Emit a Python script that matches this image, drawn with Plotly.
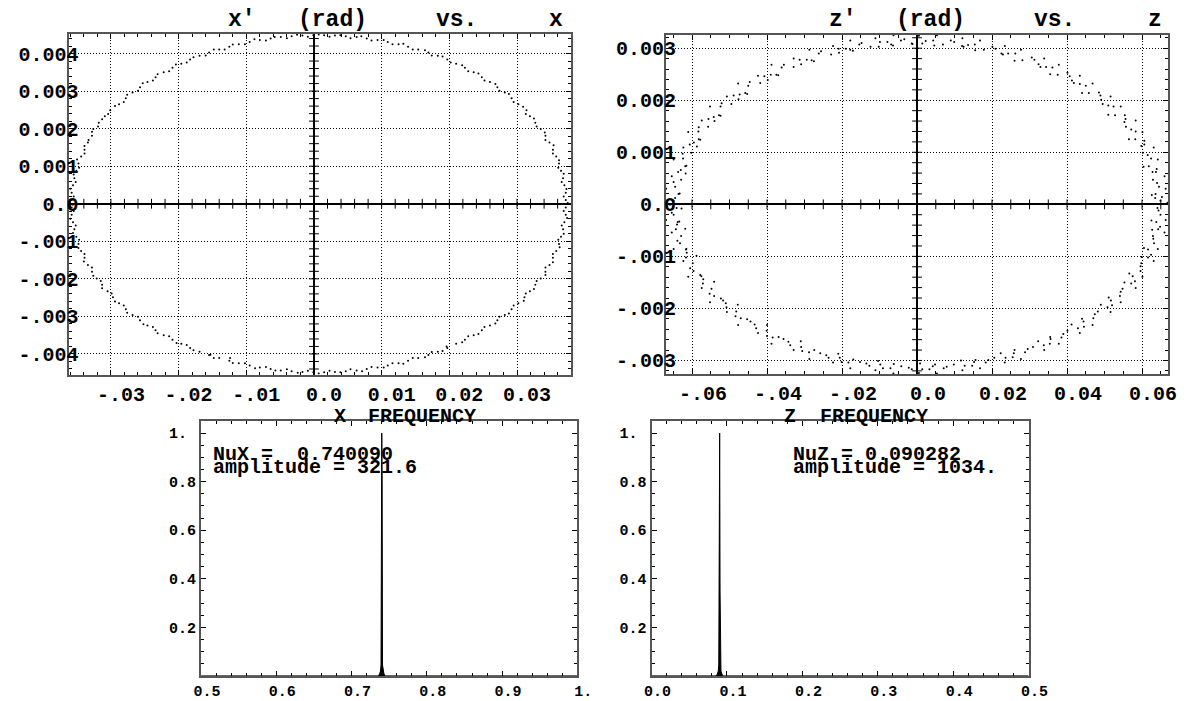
import numpy as np
import plotly.graph_objects as go

W, H = 1198, 701
FONT = "Liberation Mono"

# ---------------------------------------------------------------- phase space x' vs x
# turn-by-turn samples, x in mm and x' in mrad (one row per quarter turn of the ellipse)
x_mm = [
    37.5, 37.3, 36.9, 36.2, 35.4, 34.1, 32.5, 30.9, 28.8, 26.8, 24.3, 21.9, 19.0, 16.4, 13.2, 10.3, 7.0, 3.9,
    0.7, -2.5, -5.8, -8.8, -12.0, -14.8, -17.8, -20.4, -23.1, -25.3, -27.6, -29.4, -31.3, -32.8, -33.9, -35.0, -35.5, -36.0,
    -36.1, -36.0, -35.6, -34.8, -34.0, -32.6, -31.3, -29.4, -27.6, -25.2, -23.1, -20.3, -17.8, -14.8, -12.0, -8.7, -5.7, -2.4,
    0.7, 3.9, 7.1, 10.3, 13.2, 16.4, 19.0, 21.9, 24.3, 26.8, 28.8, 31.0, 32.5, 34.2, 35.3, 36.3, 36.9, 37.4,
    36.9, 36.6, 36.1, 35.3, 34.2, 32.9, 31.3, 29.5, 27.4, 25.2, 22.8, 20.2, 17.4, 14.6, 11.6, 8.5, 5.4, 2.3,
    -0.9, -4.0, -7.1, -10.2, -13.2, -16.0, -18.8, -21.4, -23.8, -26.0, -28.1, -30.4, -31.9, -33.3, -33.9, -34.7, -35.2, -35.5,
    -35.5, -35.2, -34.7, -33.9, -32.8, -31.5, -29.9, -28.1, -26.0, -23.8, -21.4, -18.8, -15.3, -12.4, -10.2, -7.1, -4.0, -0.9,
    2.3, 5.4, 8.5, 11.6, 14.6, 17.4, 19.6, 22.8, 25.2, 27.4, 29.5, 31.3, 32.9, 34.2, 35.3, 36.1, 36.6, 36.9,
    37.2, 37.2, 37.0, 36.8, 36.5, 36.2, 35.8, 35.3, 34.8, 34.2, 33.5, 32.7, 31.9, 31.4, 30.2, 29.2, 28.2, 27.1,
    26.0, 24.8, 23.6, 22.3, 21.0, 19.7, 18.3, 16.9, 15.4, 13.9, 12.5, 10.9, 9.4, 7.8, 6.3, 4.7, 3.1, 1.5,
    -0.1, -1.7, -3.3, -4.9, -6.4, -8.0, -9.5, -11.1, -12.5, -14.0, -15.5, -16.9, -18.3, -19.6, -20.9, -22.2, -23.4, -24.6,
    -25.7, -26.8, -27.8, -28.8, -30.1, -30.9, -31.8, -32.6, -32.8, -33.4, -33.9, -34.4, -34.8, -35.1, -35.4, -35.6, -35.8, -35.8,
    -35.8, -35.8, -35.6, -35.4, -35.1, -34.8, -34.4, -33.9, -33.4, -32.8, -32.1, -31.3, -30.5, -29.7, -28.8, -27.8, -26.8, -25.7,
    -24.6, -23.4, -22.2, -20.9, -19.6, -18.3, -16.9, -15.5, -14.0, -12.5, -11.1, -9.5, -8.0, -6.4, -4.9, -3.3, -1.7, -0.1,
    1.5, 3.1, 4.7, 6.3, 7.8, 9.4, 10.9, 12.5, 13.9, 15.4, 16.9, 18.3, 19.7, 21.0, 22.3, 23.6, 24.8, 26.0,
    27.1, 28.2, 29.2, 30.2, 31.1, 31.9, 32.7, 33.5, 34.2, 34.8, 35.3, 35.8, 36.2, 36.5, 36.8, 37.0, 37.2, 37.2,
]
xp_mrad = [
    0.02, 0.39, 0.80, 1.16, 1.56, 1.90, 2.27, 2.58, 2.92, 3.19, 3.47, 3.69, 3.92, 4.09, 4.26, 4.36, 4.46, 4.49,
    4.51, 4.50, 4.44, 4.38, 4.24, 4.11, 3.90, 3.71, 3.45, 3.21, 2.90, 2.60, 2.25, 1.92, 1.54, 1.18, 0.78, 0.40,
    -0.01, -0.40, -0.78, -1.18, -1.54, -1.92, -2.25, -2.60, -2.90, -3.21, -3.45, -3.71, -3.90, -4.11, -4.24, -4.38, -4.44, -4.50,
    -4.52, -4.49, -4.46, -4.36, -4.26, -4.09, -3.92, -3.69, -3.47, -3.19, -2.92, -2.58, -2.27, -1.90, -1.56, -1.16, -0.80, -0.38,
    0.19, 0.58, 0.96, 1.34, 1.70, 2.06, 2.39, 2.71, 3.01, 3.28, 3.53, 3.76, 3.95, 4.11, 4.25, 4.35, 4.41, 4.45,
    4.45, 4.41, 4.35, 4.25, 4.11, 3.95, 3.76, 3.53, 3.28, 3.01, 2.71, 2.39, 2.06, 1.70, 1.34, 0.96, 0.58, 0.19,
    -0.19, -0.58, -0.96, -1.34, -1.70, -2.06, -2.39, -2.71, -3.01, -3.28, -3.53, -3.76, -4.02, -4.11, -4.25, -4.35, -4.41, -4.45,
    -4.45, -4.41, -4.35, -4.25, -4.11, -3.95, -3.80, -3.53, -3.28, -3.01, -2.71, -2.39, -2.06, -1.70, -1.34, -0.96, -0.58, -0.19,
    0.10, 0.29, 0.49, 0.68, 0.88, 1.07, 1.26, 1.44, 1.63, 1.81, 1.99, 2.16, 2.33, 2.49, 2.65, 2.81, 2.96, 3.10,
    3.24, 3.37, 3.50, 3.62, 3.73, 3.84, 3.94, 4.03, 4.11, 4.18, 4.25, 4.31, 4.36, 4.40, 4.44, 4.46, 4.48, 4.49,
    4.49, 4.48, 4.46, 4.44, 4.40, 4.36, 4.31, 4.25, 4.18, 4.11, 4.03, 3.94, 3.84, 3.73, 3.62, 3.50, 3.37, 3.24,
    3.10, 2.96, 2.81, 2.65, 2.49, 2.33, 2.16, 1.99, 1.81, 1.63, 1.44, 1.26, 1.07, 0.88, 0.68, 0.49, 0.29, 0.10,
    -0.10, -0.29, -0.49, -0.68, -0.88, -1.07, -1.26, -1.44, -1.63, -1.81, -1.99, -2.16, -2.33, -2.49, -2.65, -2.81, -2.96, -3.10,
    -3.24, -3.37, -3.50, -3.62, -3.73, -3.84, -3.94, -4.03, -4.11, -4.18, -4.25, -4.31, -4.36, -4.40, -4.44, -4.46, -4.48, -4.49,
    -4.49, -4.48, -4.46, -4.44, -4.40, -4.36, -4.31, -4.25, -4.18, -4.11, -4.03, -3.94, -3.84, -3.73, -3.62, -3.50, -3.37, -3.24,
    -3.10, -2.96, -2.81, -2.65, -2.49, -2.33, -2.16, -1.99, -1.81, -1.63, -1.44, -1.26, -1.07, -0.88, -0.68, -0.49, -0.29, -0.10,
]

# ---------------------------------------------------------------- phase space z' vs z
z_mm = [
    66.8, 66.3, 66.0, 64.2, 63.1, 60.1, 58.3, 54.3, 51.6, 46.8, 43.4, 37.8, 33.9, 27.7, 23.4, 16.8, 12.1, 5.3,
    0.5, -6.3, -11.1, -17.8, -22.4, -28.7, -32.9, -38.8, -42.4, -47.7, -50.7, -55.2, -57.4, -61.0, -62.3, -64.9, -65.4, -66.9,
    -66.7, -66.9, -65.4, -64.9, -62.3, -61.0, -57.4, -55.2, -50.7, -47.7, -42.4, -38.8, -32.9, -28.7, -22.4, -17.8, -11.1, -6.3,
    0.5, 5.3, 12.1, 16.8, 23.4, 27.7, 33.9, 37.8, 43.4, 46.8, 51.6, 54.3, 58.3, 60.1, 63.1, 64.2, 66.0, 66.3,
    65.3, 64.0, 63.9, 61.5, 60.6, 57.1, 55.4, 51.0, 48.5, 43.4, 40.1, 34.4, 30.6, 24.3, 20.1, 13.6, 9.0, 2.3,
    -3.4, -7.9, -14.8, -19.0, -25.6, -29.4, -35.5, -39.0, -44.6, -47.3, -52.1, -54.2, -58.2, -59.5, -62.5, -63.0, -64.9, -64.5,
    -65.4, -64.0, -63.9, -61.4, -60.5, -57.0, -55.3, -51.0, -48.4, -43.3, -40.0, -34.3, -30.6, -24.2, -20.1, -13.5, -9.1, -2.2,
    3.3, 7.9, 14.7, 19.0, 25.5, 29.5, 35.4, 39.0, 44.5, 47.4, 52.0, 54.3, 58.1, 59.6, 62.4, 63.0, 64.8, 64.4,
    63.5, 62.6, 62.8, 60.4, 59.8, 56.5, 55.3, 51.0, 49.1, 44.0, 41.3, 35.5, 32.4, 26.0, 22.5, 15.5, 12.0, 4.6,
    -1.2, -6.4, -10.2, -17.1, -20.8, -27.5, -30.9, -37.0, -39.8, -45.3, -47.6, -52.4, -54.0, -57.8, -58.7, -61.5, -61.7, -63.3,
    -62.8, -63.4, -61.8, -61.5, -58.8, -57.8, -54.1, -52.3, -47.8, -45.3, -40.0, -36.9, -31.0, -27.4, -21.0, -17.0, -10.4, -6.2,
    0.8, 4.8, 11.7, 15.6, 22.3, 26.0, 32.3, 35.5, 41.2, 44.0, 49.0, 51.1, 55.3, 56.6, 59.9, 60.5, 62.7, 62.5,
    64.9, 63.6, 64.5, 62.9, 63.7, 61.8, 62.4, 60.2, 60.6, 58.2, 58.3, 55.7, 55.6, 52.8, 52.4, 49.5, 48.9, 45.8,
    45.0, 41.8, 40.7, 37.5, 36.1, 32.9, 31.3, 28.1, 26.2, 22.9, 20.9, 17.8, 15.4, 12.4, 9.9, 6.9, 4.3, 1.4,
    -1.4, -4.3, -6.9, -9.9, -12.4, -15.4, -17.8, -20.9, -22.9, -26.2, -28.1, -31.3, -32.9, -36.1, -37.5, -40.7, -41.8, -45.0,
    -45.8, -48.9, -49.5, -52.4, -52.8, -55.6, -55.7, -58.3, -58.2, -60.6, -60.2, -62.4, -61.8, -63.7, -62.9, -64.5, -63.6, -64.9,
    -64.1, -64.9, -63.8, -64.3, -62.9, -63.2, -61.6, -61.6, -59.8, -59.6, -57.5, -57.1, -54.8, -54.1, -51.7, -50.8, -48.2, -47.0,
    -44.4, -42.9, -40.1, -38.5, -35.6, -33.8, -30.9, -28.8, -25.8, -23.6, -20.6, -18.3, -15.2, -12.7, -9.8, -7.1, -4.2, -1.4,
    1.4, 4.2, 7.1, 9.8, 12.7, 15.2, 18.3, 20.6, 23.6, 25.8, 28.8, 30.9, 33.8, 35.6, 38.5, 40.1, 42.9, 44.4,
    47.0, 48.2, 50.8, 51.7, 54.1, 54.8, 57.1, 57.5, 59.6, 59.8, 61.6, 61.6, 63.2, 62.9, 64.3, 63.8, 64.9, 64.1,
]
zp_mrad = [
    0.03, 0.30, 0.54, 0.86, 1.09, 1.39, 1.61, 1.88, 2.07, 2.32, 2.47, 2.68, 2.80, 2.97, 3.04, 3.15, 3.19, 3.25,
    3.24, 3.25, 3.19, 3.15, 3.04, 2.97, 2.80, 2.68, 2.47, 2.32, 2.07, 1.88, 1.61, 1.39, 1.09, 0.86, 0.54, 0.30,
    -0.03, -0.30, -0.54, -0.86, -1.09, -1.39, -1.61, -1.88, -2.07, -2.32, -2.47, -2.68, -2.80, -2.97, -3.04, -3.15, -3.19, -3.25,
    -3.24, -3.25, -3.19, -3.15, -3.04, -2.97, -2.80, -2.68, -2.47, -2.32, -2.07, -1.88, -1.61, -1.39, -1.09, -0.86, -0.54, -0.30,
    0.14, 0.41, 0.68, 0.95, 1.22, 1.44, 1.71, 1.90, 2.15, 2.31, 2.53, 2.64, 2.82, 2.90, 3.03, 3.06, 3.15, 3.14,
    3.17, 3.12, 3.10, 2.99, 2.94, 2.78, 2.68, 2.49, 2.35, 2.11, 1.94, 1.68, 1.48, 1.19, 0.97, 0.66, 0.43, 0.12,
    -0.16, -0.39, -0.70, -0.93, -1.23, -1.44, -1.72, -1.90, -2.15, -2.31, -2.53, -2.64, -2.82, -2.90, -3.03, -3.06, -3.15, -3.14,
    -3.17, -3.12, -3.10, -2.99, -2.94, -2.78, -2.68, -2.49, -2.35, -2.11, -1.94, -1.68, -1.48, -1.19, -0.97, -0.66, -0.43, -0.12,
    0.12, 0.18, 0.62, 0.72, 1.12, 1.25, 1.58, 1.72, 2.01, 2.14, 2.38, 2.50, 2.69, 2.76, 2.90, 2.96, 3.04, 3.05,
    3.08, 3.05, 3.03, 2.95, 2.91, 2.75, 2.69, 2.48, 2.39, 2.12, 2.02, 1.70, 1.60, 1.24, 1.11, 0.74, 0.59, 0.21,
    -0.08, -0.33, -0.47, -0.86, -0.99, -1.36, -1.49, -1.81, -1.93, -2.21, -2.32, -2.55, -2.63, -2.80, -2.87, -2.98, -3.01, -3.07,
    -3.06, -3.08, -3.00, -2.99, -2.86, -2.80, -2.63, -2.55, -2.31, -2.20, -1.93, -1.79, -1.50, -1.33, -1.01, -0.84, -0.49, -0.31,
    0.07, 0.20, 0.34, 0.47, 0.62, 0.73, 0.88, 0.99, 1.15, 1.25, 1.40, 1.49, 1.64, 1.71, 1.88, 1.93, 2.09, 2.14,
    2.28, 2.33, 2.46, 2.49, 2.63, 2.64, 2.78, 2.77, 2.90, 2.88, 2.99, 2.97, 3.07, 3.03, 3.12, 3.07, 3.15, 3.09,
    3.09, 3.15, 3.07, 3.12, 3.03, 3.07, 2.97, 2.99, 2.88, 2.90, 2.77, 2.78, 2.64, 2.63, 2.49, 2.46, 2.33, 2.28,
    2.14, 2.09, 1.93, 1.88, 1.71, 1.64, 1.49, 1.40, 1.25, 1.15, 0.99, 0.88, 0.73, 0.62, 0.47, 0.34, 0.20, 0.07,
    -0.07, -0.20, -0.34, -0.48, -0.61, -0.75, -0.87, -1.02, -1.13, -1.28, -1.38, -1.52, -1.62, -1.76, -1.85, -1.98, -2.06, -2.19,
    -2.25, -2.38, -2.43, -2.56, -2.59, -2.71, -2.74, -2.84, -2.86, -2.95, -2.95, -3.04, -3.03, -3.10, -3.08, -3.15, -3.11, -3.17,
    -3.17, -3.11, -3.15, -3.08, -3.10, -3.03, -3.04, -2.95, -2.95, -2.86, -2.84, -2.74, -2.71, -2.59, -2.56, -2.43, -2.38, -2.25,
    -2.19, -2.06, -1.98, -1.85, -1.76, -1.62, -1.52, -1.38, -1.28, -1.13, -1.02, -0.87, -0.75, -0.61, -0.48, -0.34, -0.20, -0.07,
]

# ---------------------------------------------------------------- tune spectra (normalised)
NU_X, AMP_X = 0.740090, "321.6"
NU_Z, AMP_Z = 0.090282, "1034."
freq_x = [0.5, 0.7355, 0.7372, 0.7384, 0.7391, 0.7395, NU_X, 0.7406, 0.7411, 0.7418, 0.7430, 0.7447, 1.0]
spec_x = [0.0, 0.0, 0.008, 0.02, 0.045, 0.35, 1.0, 0.80, 0.045, 0.02, 0.008, 0.0, 0.0]
freq_z = [0.0, 0.0855, 0.0872, 0.0884, 0.0891, 0.0897, NU_Z, 0.0908, 0.0913, 0.0920, 0.0932, 0.0949, 0.5]
spec_z = [0.0, 0.0, 0.008, 0.02, 0.045, 0.68, 1.0, 0.35, 0.045, 0.02, 0.008, 0.0, 0.0]

# tick labels
tl_x_vals = [-0.03, -0.02, -0.01, 0.0, 0.01, 0.02, 0.03]
tl_x_text = ["-.03", "-.02", "-.01", "0.0", "0.01", "0.02", "0.03"]
tl_y_vals = [-0.004, -0.003, -0.002, -0.001, 0.0, 0.001, 0.002, 0.003, 0.004]
tl_y_text = ["-.004", "-.003", "-.002", "-.001", "0.0", "0.001", "0.002", "0.003", "0.004"]
tr_x_vals = [-0.06, -0.04, -0.02, 0.0, 0.02, 0.04, 0.06]
tr_x_text = ["-.06", "-.04", "-.02", "0.0", "0.02", "0.04", "0.06"]
tr_y_vals = [-0.003, -0.002, -0.001, 0.0, 0.001, 0.002, 0.003]
tr_y_text = ["-.003", "-.002", "-.001", "0.0", "0.001", "0.002", "0.003"]
bl_x_vals = [0.5, 0.6, 0.7, 0.8, 0.9, 1.0]
bl_x_text = ["0.5", "0.6", "0.7", "0.8", "0.9", "1."]
br_x_vals = [0.0, 0.1, 0.2, 0.3, 0.4, 0.5]
br_x_text = ["0.0", "0.1", "0.2", "0.3", "0.4", "0.5"]
b_y_vals = [0.2, 0.4, 0.6, 0.8, 1.0]
b_y_text = ["0.2", "0.4", "0.6", "0.8", "1.\u00a0"]


def px_x(p):
    return p / W


def px_y(p):
    return 1 - p / H


fig = go.Figure()

DOT = dict(size=2, color="black", line=dict(width=0))
fig.add_trace(go.Scatter(x=np.array(x_mm) * 1e-3, y=np.array(xp_mrad) * 1e-3,
                         mode="markers", marker=DOT, xaxis="x", yaxis="y", hoverinfo="skip"))
fig.add_trace(go.Scatter(x=np.array(z_mm) * 1e-3, y=np.array(zp_mrad) * 1e-3,
                         mode="markers", marker=DOT, xaxis="x2", yaxis="y2", hoverinfo="skip"))


# small tick marks crossing the zero axes of the phase-space panels
def axis_ticks(xa, ya, xstep, xn, ystep, yn):
    xs = np.arange(-xn, xn + 1) * xstep
    xs = xs[xs != 0]
    ys = np.arange(-yn, yn + 1) * ystep
    ys = ys[ys != 0]
    mk = dict(size=7, color="black", line=dict(width=1, color="black"))
    fig.add_trace(go.Scatter(x=xs, y=np.zeros_like(xs), mode="markers", xaxis=xa, yaxis=ya,
                             marker=dict(symbol="line-ns", **mk), hoverinfo="skip"))
    fig.add_trace(go.Scatter(x=np.zeros_like(ys), y=ys, mode="markers", xaxis=xa, yaxis=ya,
                             marker=dict(symbol="line-ew", **mk), hoverinfo="skip"))


axis_ticks("x", "y", 0.002, 18, 0.0002, 22)
axis_ticks("x2", "y2", 0.005, 13, 0.0002, 16)

fig.add_trace(go.Scatter(x=freq_x, y=spec_x, mode="lines", fill="tozeroy", fillcolor="black",
                         line=dict(color="black", width=1), xaxis="x3", yaxis="y3", hoverinfo="skip"))
fig.add_trace(go.Scatter(x=freq_z, y=spec_z, mode="lines", fill="tozeroy", fillcolor="black",
                         line=dict(color="black", width=1), xaxis="x4", yaxis="y4", hoverinfo="skip"))

TICKFONT = dict(family=FONT, size=20, color="black", weight="bold")
SMALLFONT = dict(family=FONT, size=15, color="black", weight="bold")


def axis(domain, rng, vals, text, anchor, minor_dtick, grid, font, shift=0, standoff=0):
    return dict(domain=domain, range=rng, anchor=anchor, tickmode="array", tickvals=vals, ticktext=text,
                showline=True, linecolor="#555555", linewidth=2, mirror="allticks",
                ticks="inside", ticklen=5, tickwidth=1, tickcolor="black", tickfont=font,
                minor=dict(ticks="inside", ticklen=3, tickwidth=1, tickcolor="black",
                           tickmode="linear", tick0=0, dtick=minor_dtick, showgrid=False),
                showgrid=grid, gridcolor="black", gridwidth=1, griddash="1px,2px",
                zeroline=grid, zerolinecolor="black", zerolinewidth=2,
                fixedrange=True, ticklabelshift=shift, ticklabelstandoff=standoff)


fig.update_layout(
    width=W, height=H, margin=dict(l=0, r=0, t=0, b=0),
    paper_bgcolor="white", plot_bgcolor="white", showlegend=False,
    xaxis=axis([px_x(62), px_x(576.5)], [-0.03626, 0.03798], tl_x_vals, tl_x_text, "y", 0.002, True, TICKFONT, shift=10),
    yaxis=axis([px_y(380), px_y(34.5)], [-0.004549, 0.00452], tl_y_vals, tl_y_text, "x", 0.0002, True, TICKFONT, standoff=-16),
    xaxis2=axis([px_x(673.7), px_x(1188)], [-0.06695, 0.06698], tr_x_vals, tr_x_text, "y2", 0.005, True, TICKFONT, shift=11),
    yaxis2=axis([px_y(379.3), px_y(35)], [-0.003258, 0.003263], tr_y_vals, tr_y_text, "x2", 0.0002, True, TICKFONT, standoff=-16),
    xaxis3=axis([px_x(197.7), px_x(583)], [0.5, 1.0], bl_x_vals, bl_x_text, "y3", 0.02, False, SMALLFONT, shift=6),
    yaxis3=axis([px_y(685.7), px_y(427)], [0.0, 1.05], b_y_vals, b_y_text, "x3", 0.05, False, SMALLFONT),
    xaxis4=axis([px_x(659), px_x(1045)], [0.0, 0.5], br_x_vals, br_x_text, "y4", 0.02, False, SMALLFONT, shift=6),
    yaxis4=axis([px_y(685.7), px_y(427)], [0.0, 1.05], b_y_vals, b_y_text, "x4", 0.05, False, SMALLFONT),
)


def label(text, x, y, size):
    fig.add_annotation(text=text, x=px_x(x), y=px_y(y), xref="paper", yref="paper",
                       xanchor="left", yanchor="middle", showarrow=False,
                       font=dict(family=FONT, size=size, color="black", weight="bold"))


# panel titles
for word, xpos in [("x\u2032", 223), ("(rad)", 295), ("vs.", 436.6), ("x", 551.5)]:
    label(word, xpos, 20, 23)
for word, xpos in [("z\u2032", 838.8), ("(rad)", 907.5), ("vs.", 1048.9), ("z", 1165.4)]:
    label(word, xpos, 20, 23)
label("X", 331.7, 423, 20)
label("FREQUENCY", 366.7, 423, 20)
label("Z", 793, 423, 20)
label("FREQUENCY", 829, 423, 20)

# tune read-outs
label(f"NuX =  {NU_X:.6f}", 208, 461, 20)
label(f"amplitude = {AMP_X}", 208, 474, 20)
label(f"NuZ = {NU_Z:.6f}", 802, 461, 20)
label(f"amplitude = {AMP_Z}", 802, 474, 20)

fig.write_html("out.html", config={"displayModeBar": False, "staticPlot": True})
